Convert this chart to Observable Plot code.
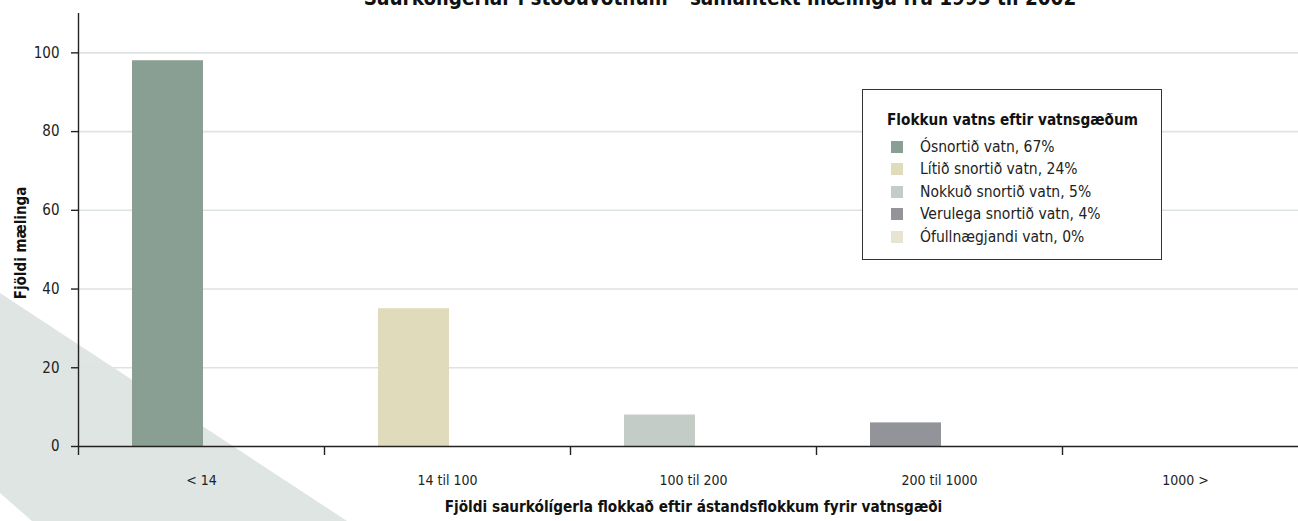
<!DOCTYPE html>
<html>
<head>
<meta charset="utf-8">
<script src="https://cdn.jsdelivr.net/npm/d3@7"></script>
<script src="https://cdn.jsdelivr.net/npm/@observablehq/plot@0.6"></script>
<style>
  html, body { margin: 0; padding: 0; background: #fff; }
  #wrap { position: relative; width: 1298px; height: 521px; overflow: hidden; font-family: "DejaVu Sans Condensed", "Liberation Sans Narrow", sans-serif; }
  #stripe { position: absolute; left: 0; top: 0; width: 1298px; height: 521px; background: #dfe5e2;
    clip-path: polygon(0px 293px, 347px 521px, 32px 521px, 0px 493px); }
  #title { position: absolute; left: 0; width: 1440px; top: -13px; text-align: center; font-weight: bold; font-size: 20.5px; line-height: 22px; color: #111; white-space: nowrap; }
  #chart { position: absolute; left: 0; top: 0; }
  #legend { position: absolute; left: 862px; top: 89px; width: 298px; height: 169px; border: 1.5px solid #333; background: #fff; color: #222; }
  #legend .lt { position: absolute; left: 24px; top: 21px; font-weight: bold; font-size: 15.2px; color: #111; white-space: nowrap; }
  #legend .row { position: absolute; left: 28px; height: 20px; display: flex; align-items: center; font-size: 15.5px; white-space: nowrap; }
  #legend .sw { width: 12px; height: 12px; margin-right: 17px; }
</style>
</head>
<body>
<div id="wrap">
  <div id="stripe"></div>
  <div id="chart"></div>
  <div id="title"></div>
  <div id="legend"></div>
</div>
<script>
const titleText = "Saurkólígerlar í stöðuvötnum – samantekt mælinga frá 1995 til 2002";
const xTitle = "Fjöldi saurkólígerla flokkað eftir ástandsflokkum fyrir vatnsgæði";
const yTitle = "Fjöldi mælinga";
const legendTitle = "Flokkun vatns eftir vatnsgæðum";

const categories = ["< 14", "14 til 100", "100 til 200", "200 til 1000", "1000 >"];
const counts = [98, 35, 8, 6, 0];
const classNames = ["Ósnortið vatn, 67%", "Lítið snortið vatn, 24%", "Nokkuð snortið vatn, 5%", "Verulega snortið vatn, 4%", "Ófullnægjandi vatn, 0%"];
const colors = ["#8a9f93", "#dfdbbb", "#c3ccc6", "#939499", "#e7e5d2"];
const yTicks = [0, 20, 40, 60, 80, 100];

const data = categories.map((c, i) => ({cat: categories[i], count: counts[i], cls: classNames[i]}));

const W = 1298, H = 521;
const mL = 78, mR = -10, mT = 13, mB = 75;
const bw = (W - mR - mL) / categories.length;
const font = '"DejaVu Sans Condensed", "Liberation Sans Narrow", sans-serif';

const plot = Plot.plot({
  width: W, height: H,
  marginLeft: mL, marginRight: mR, marginTop: mT, marginBottom: mB,
  style: {fontFamily: font, fontSize: "14px", background: "transparent", overflow: "visible"},
  x: {domain: categories, padding: 0, axis: null},
  y: {domain: [0, 110], axis: null},
  color: {domain: classNames, range: colors},
  marks: [
    Plot.gridY(yTicks.filter(d => d > 0), {stroke: "#dde3e0", strokeOpacity: 1, strokeWidth: 1.6}),
    Plot.barY(data, {x: "cat", y: "count", fill: "cls", insetLeft: 54, insetRight: bw - 125}),
    Plot.ruleY([0], {stroke: "#222", strokeWidth: 1.4}),
    Plot.ruleX([categories[0]], {y1: 110, y2: 0, dx: -bw / 2, stroke: "#222", strokeWidth: 1.4}),
    Plot.axisY({ticks: yTicks, tickSize: 7, tickPadding: 12, fontSize: 15, stroke: "#222", strokeWidth: 1.4, fill: "#222", label: null}),
    Plot.axisX({ticks: categories, tickSize: 9, tickPadding: 0, tickFormat: () => "", dx: -bw / 2, stroke: "#222", strokeWidth: 1.4, label: null}),
    Plot.axisX({ticks: categories, tickSize: 0, tickPadding: 29, fontSize: 14, fill: "#222", label: null}),
    Plot.text([xTitle], {frameAnchor: "bottom", dy: 65, fontSize: 15.2, fontWeight: "bold", fill: "#111"}),
    Plot.text([yTitle], {frameAnchor: "left", textAnchor: "middle", dx: -57, dy: 13, rotate: -90, fontSize: 15, fontWeight: "bold", fill: "#111"})
  ]
});
document.getElementById("chart").appendChild(plot);
document.getElementById("title").textContent = titleText;

const legend = document.getElementById("legend");
const lt = document.createElement("div");
lt.className = "lt"; lt.textContent = legendTitle;
legend.appendChild(lt);
classNames.forEach((name, i) => {
  const row = document.createElement("div");
  row.className = "row";
  row.style.top = (47 + i * 22.4) + "px";
  const sw = document.createElement("div");
  sw.className = "sw"; sw.style.background = colors[i];
  const t = document.createElement("span");
  t.textContent = name;
  row.appendChild(sw); row.appendChild(t);
  legend.appendChild(row);
});
</script>
</body>
</html>
